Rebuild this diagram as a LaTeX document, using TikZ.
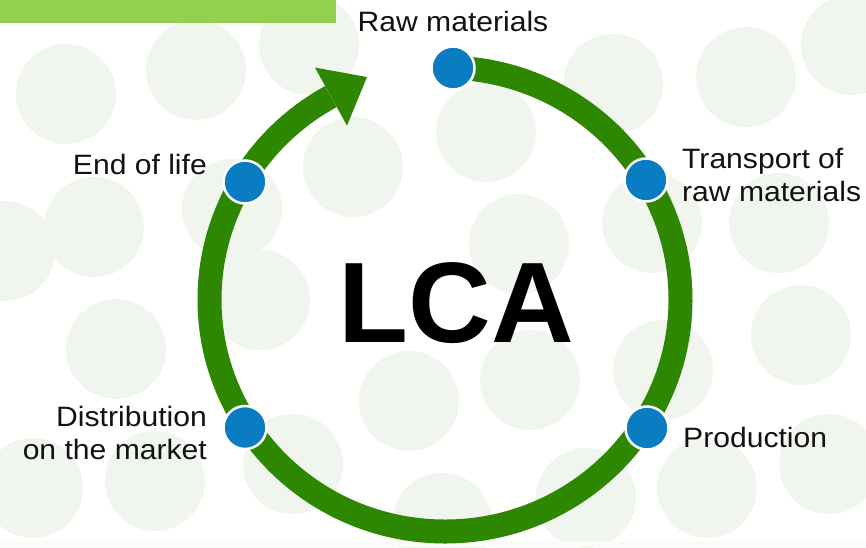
\documentclass[tikz,border=0pt]{standalone}
\usepackage{fontspec}
\setmainfont{Liberation Sans}
\newfontfamily\labfont[FakeStretch=1.075]{Liberation Sans}
\usetikzlibrary{calc}
\definecolor{ringgreen}{RGB}{46,135,0}
\definecolor{dotblue}{RGB}{10,124,194}
\definecolor{bannergreen}{RGB}{146,208,80}
\definecolor{bgcircle}{RGB}{240,245,238}
\definecolor{txt}{RGB}{18,18,18}
\begin{document}
\begin{tikzpicture}[x=1pt,y=1pt,
  ring/.style={draw=ringgreen, line width=24pt},
  stage/.style={circle, fill=dotblue, draw=white, line width=2.5pt, minimum size=43pt, inner sep=0pt},
  lab/.style={font=\labfont\fontsize{28}{33}\selectfont, text=txt, inner sep=0pt},
  bgc/.style={fill=bgcircle}]
\useasboundingbox (0,0) rectangle (866,547);
\fill[white] (0,0) rectangle (866,547);
\begin{scope}
\clip (0,0) rectangle (866,547);
\foreach \x/\y in {66/94,196/70,309/45,486/132,613/84,746/77,851/45,
  94/227,232/209,353/167,519/244,652/223,779/223,5/251,
  116/349,260/300,409/401,530/380,663/370,801/335,
  33/488,155/481,293/464,442/523,586/498,707/488,829/464}
  \fill[bgc] (\x,547-\y) circle (50);
\fill[black!2] (0,0) rectangle (866,6);
\end{scope}
% banner
\fill[bannergreen] (0,524) rectangle (336,547);
% ring
\coordinate (c) at (445,247.5);
\draw[ring] (c) ++(88:235.5 and 232) arc[start angle=88, end angle=-241, x radius=235.5, y radius=232] coordinate (arrowbase);
\fill[ringgreen] (315,479.4) -- (367,470) -- (347,421.4) -- cycle;
% stages
\node[stage] (raw) at (453,479) {};
\node[stage] (transport) at (646,367) {};
\node[stage] (production) at (647,119) {};
\node[stage] (distribution) at (245,119.5) {};
\node[stage] (eol) at (245,365) {};
% labels
\node[lab, anchor=base] (rawlab) at (453,515) {Raw materials};
\node[lab, anchor=base east] (eollab) at (207,372) {End of life};
\node[lab, anchor=base west] (translab1) at (682,378) {Transport of};
\node[lab, anchor=base west] (translab2) at (682,345) {raw materials};
\node[lab, anchor=base east] (distlab1) at (207,121) {Distribution};
\node[lab, anchor=base east] (distlab2) at (207,88) {on the market};
\node[lab, anchor=base west] (prodlab) at (683,100) {Production};
\node[font=\bfseries\fontsize{114.5}{120}\selectfont, text=black, inner sep=0pt, anchor=base] (lca) at (456.5,205) {LCA};
\end{tikzpicture}
\end{document}
